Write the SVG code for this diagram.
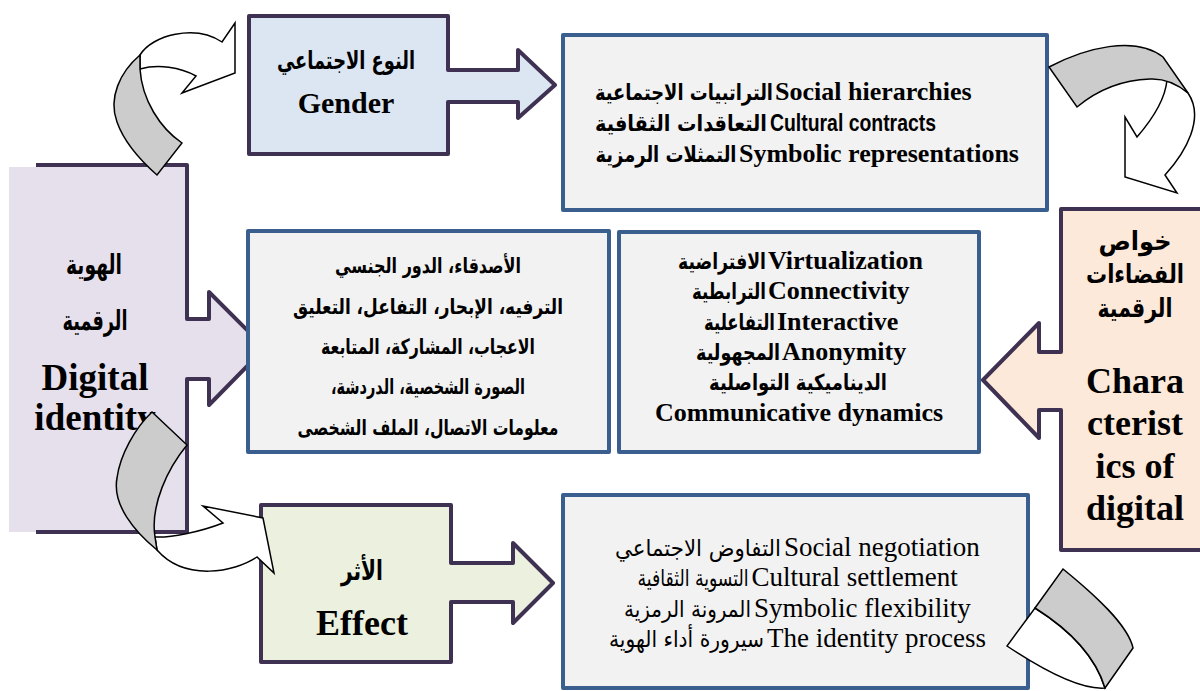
<svg xmlns="http://www.w3.org/2000/svg" width="1200" height="691" viewBox="0 0 1200 691">
  <style>
    .ar { font-family: "DejaVu Sans", "Noto Sans", sans-serif; fill: #000; }
    .en { font-family: "Liberation Serif", "Times New Roman", serif; fill: #000; }
    .sans { font-family: "Liberation Sans", Arial, sans-serif; fill: #000; }
    .b { font-weight: bold; }
    .purple { stroke: #3f3151; stroke-width: 4; stroke-linejoin: round; }
    .blue { fill: #f2f2f2; stroke: #3a5f8e; stroke-width: 4; stroke-linejoin: round; }
    .ribbon { stroke: #000; stroke-width: 1.5; stroke-linejoin: miter; }
    .under { fill: #cccccc; }
    .over { fill: #ffffff; }
  </style>

  <rect width="1200" height="691" fill="#ffffff"/>

  <!-- Digital identity: left box with arrow into the usage box -->
  <g id="digital-identity">
    <path d="M9,167 H187 V319 H209 V292 L265,348 L209,405 V379 H187 V532 H9 Z" fill="#e5e0ec"/>
    <path class="purple" fill="none" d="M36,165 H187 V319 H209 V292 L265,348 L209,405 V379 H187 V532 H36"/>
    <text class="ar b" x="94" y="274" font-size="28" text-anchor="middle" direction="rtl" textLength="56" lengthAdjust="spacingAndGlyphs">الهوية</text>
    <text class="ar b" x="95" y="330" font-size="28" text-anchor="middle" direction="rtl" textLength="65" lengthAdjust="spacingAndGlyphs">الرقمية</text>
    <text class="en b" x="95" y="390" font-size="37" text-anchor="middle">Digital</text>
    <text class="en b" x="95" y="430" font-size="37" text-anchor="middle">identity</text>
  </g>

  <!-- Usage items box -->
  <g id="usage">
    <rect class="blue" x="248" y="231" width="361" height="221"/>
    <g class="ar b" font-size="21" text-anchor="middle" direction="rtl">
      <text x="428" y="273" textLength="186" lengthAdjust="spacingAndGlyphs">الأصدقاء، الدور الجنسي</text>
      <text x="428" y="314" textLength="270" lengthAdjust="spacingAndGlyphs">الترفيه، الإبحار، التفاعل، التعليق</text>
      <text x="428" y="354" textLength="214" lengthAdjust="spacingAndGlyphs">الاعجاب، المشاركة، المتابعة</text>
      <text x="428" y="394" textLength="194" lengthAdjust="spacingAndGlyphs">الصورة الشخصية، الدردشة،</text>
      <text x="428" y="435" textLength="261" lengthAdjust="spacingAndGlyphs">معلومات الاتصال، الملف الشخصى</text>
    </g>
  </g>

  <!-- Gender box with arrow -->
  <g id="gender">
    <path class="purple" fill="#dce6f2" d="M249,16 H448 V70 H518 V50 L555,85 L518,118 V102 H448 V154 H249 Z"/>
    <text class="ar b" x="346" y="69" font-size="25" text-anchor="middle" direction="rtl" textLength="138" lengthAdjust="spacingAndGlyphs">النوع الاجتماعي</text>
    <text class="en b" x="346" y="113" font-size="30" text-anchor="middle">Gender</text>
  </g>

  <!-- Social structures box -->
  <g id="social">
    <rect class="blue" x="563" y="35" width="484" height="175"/>
    <text class="ar b" x="684" y="100" font-size="22" text-anchor="middle" direction="rtl" textLength="178" lengthAdjust="spacingAndGlyphs">التراتبيات الاجتماعية</text>
    <text class="en b" x="775" y="100" font-size="26">Social hierarchies</text>
    <text class="ar b" x="681" y="131" font-size="22" text-anchor="middle" direction="rtl" textLength="172" lengthAdjust="spacingAndGlyphs">التعاقدات الثقافية</text>
    <text class="sans b" x="770" y="131" font-size="24" textLength="166" lengthAdjust="spacingAndGlyphs">Cultural contracts</text>
    <text class="ar b" x="666" y="162" font-size="22" text-anchor="middle" direction="rtl" textLength="141" lengthAdjust="spacingAndGlyphs">التمثلات الرمزية</text>
    <text class="en b" x="739" y="162" font-size="26">Symbolic representations</text>
  </g>

  <!-- Characteristics of digital spaces, with arrow to the left -->
  <g id="characteristics">
    <path class="purple" fill="#fde9d9" d="M1061,209 H1212 V550 H1061 V410 H1039 V438 L983,380 L1039,323 V352 H1061 Z"/>
    <text class="ar b" x="1135" y="250" font-size="26" text-anchor="middle" direction="rtl" textLength="73" lengthAdjust="spacingAndGlyphs">خواص</text>
    <text class="ar b" x="1135" y="283" font-size="26" text-anchor="middle" direction="rtl" textLength="98" lengthAdjust="spacingAndGlyphs">الفضاءات</text>
    <text class="ar b" x="1135" y="317" font-size="26" text-anchor="middle" direction="rtl" textLength="75" lengthAdjust="spacingAndGlyphs">الرقمية</text>
    <g class="en b" font-size="36" text-anchor="middle">
      <text x="1135" y="393">Chara</text>
      <text x="1135" y="435">cterist</text>
      <text x="1135" y="478">ics of</text>
      <text x="1135" y="520">digital</text>
    </g>
  </g>

  <!-- Properties box -->
  <g id="properties">
    <rect class="blue" x="619" y="232" width="360" height="220"/>
    <text class="ar b" x="722" y="269" font-size="22" text-anchor="middle" direction="rtl" textLength="88" lengthAdjust="spacingAndGlyphs">الافتراضية</text>
    <text class="en b" x="768" y="269" font-size="26">Virtualization</text>
    <text class="ar b" x="729" y="299" font-size="22" text-anchor="middle" direction="rtl" textLength="74" lengthAdjust="spacingAndGlyphs">الترابطية</text>
    <text class="en b" x="768" y="299" font-size="26">Connectivity</text>
    <text class="ar b" x="739.5" y="330" font-size="22" text-anchor="middle" direction="rtl" textLength="71" lengthAdjust="spacingAndGlyphs">التفاعلية</text>
    <text class="en b" x="777" y="330" font-size="26">Interactive</text>
    <text class="ar b" x="738" y="360" font-size="22" text-anchor="middle" direction="rtl" textLength="84" lengthAdjust="spacingAndGlyphs">المجهولية</text>
    <text class="en b" x="782" y="360" font-size="26">Anonymity</text>
    <text class="ar b" x="798" y="390" font-size="22" text-anchor="middle" direction="rtl" textLength="178" lengthAdjust="spacingAndGlyphs">الديناميكية التواصلية</text>
    <text class="en b" x="799" y="421" font-size="26" text-anchor="middle">Communicative dynamics</text>
  </g>

  <!-- Effect box with arrow -->
  <g id="effect">
    <path class="purple" fill="#ebf1de" d="M261,505 H451 V563 H513 V543 L553,583 L513,623 V602 H451 V662 H261 Z"/>
    <text class="ar b" x="362" y="580" font-size="27" text-anchor="middle" direction="rtl" textLength="42" lengthAdjust="spacingAndGlyphs">الأثر</text>
    <text class="en b" x="362" y="635" font-size="36" text-anchor="middle">Effect</text>
  </g>

  <!-- Outcomes box -->
  <g id="outcomes">
    <rect class="blue" x="563" y="495" width="465" height="193"/>
    <text class="ar" x="698" y="556" font-size="23" text-anchor="middle" direction="rtl" textLength="166" lengthAdjust="spacingAndGlyphs">التفاوض الاجتماعي</text>
    <text class="en" x="784" y="556" font-size="27">Social negotiation</text>
    <text class="ar" x="693" y="586" font-size="23" text-anchor="middle" direction="rtl" textLength="111" lengthAdjust="spacingAndGlyphs">التسوية الثقافية</text>
    <text class="en" x="751.5" y="586" font-size="27">Cultural settlement</text>
    <text class="ar" x="687.5" y="617" font-size="23" text-anchor="middle" direction="rtl" textLength="127" lengthAdjust="spacingAndGlyphs">المرونة الرمزية</text>
    <text class="en" x="754" y="617" font-size="27">Symbolic flexibility</text>
    <text class="ar" x="686.5" y="647" font-size="23" text-anchor="middle" direction="rtl" textLength="155" lengthAdjust="spacingAndGlyphs">سيرورة أداء الهوية</text>
    <text class="en" x="767" y="647" font-size="27">The identity process</text>
  </g>

  <!-- Curved ribbon arrows -->
  <g id="connectors">
    <!-- identity to gender -->
    <g id="curve-identity-gender">
      <path class="ribbon over" d="M140,55 C152,35 195,24 222,42 L235,23 L235,73 L182,93 L196,76 C180,67 158,64 140,69 Z"/>
      <path class="ribbon under" d="M140,55 C120,72 108,98 117,122 C124,142 140,160 157,175 L182,143 C160,128 142,100 140,69 Z"/>
    </g>
    <!-- social box to characteristics -->
    <g id="curve-social-characteristics">
      <path class="ribbon over" d="M1167,80 C1165,102 1150,122 1137,137 L1125,117 L1125,177 L1177,193 L1165,175 C1186,152 1205,118 1188,93 Q1178,83 1167,80 Z"/>
      <path class="ribbon under" d="M1049,67 C1085,48 1135,35 1163,57 L1188,93 Q1170,78 1150,79 C1120,80 1095,92 1077,107 Z"/>
    </g>
    <!-- identity to effect -->
    <g id="curve-identity-effect">
      <path class="ribbon over" d="M155,537 C170,538 200,532 223,523 L203,506 L263,518 L274,573 L257,557 C235,572 185,582 157,550 Z"/>
      <path class="ribbon under" d="M152,412 L187,445 C168,468 150,505 155,537 L157,550 C135,532 112,505 117,478 C120,455 135,428 152,412 Z"/>
    </g>
    <!-- outcomes return ribbon -->
    <g id="curve-outcomes">
      <path class="ribbon over" d="M1035,608 C1070,630 1095,655 1105,688 C1080,690 1040,668 1007,646 Z"/>
      <path class="ribbon under" d="M1035,608 L1063,569 C1095,595 1128,625 1133,648 L1105,688 C1095,655 1070,630 1035,608 Z"/>
    </g>
  </g>
</svg>
